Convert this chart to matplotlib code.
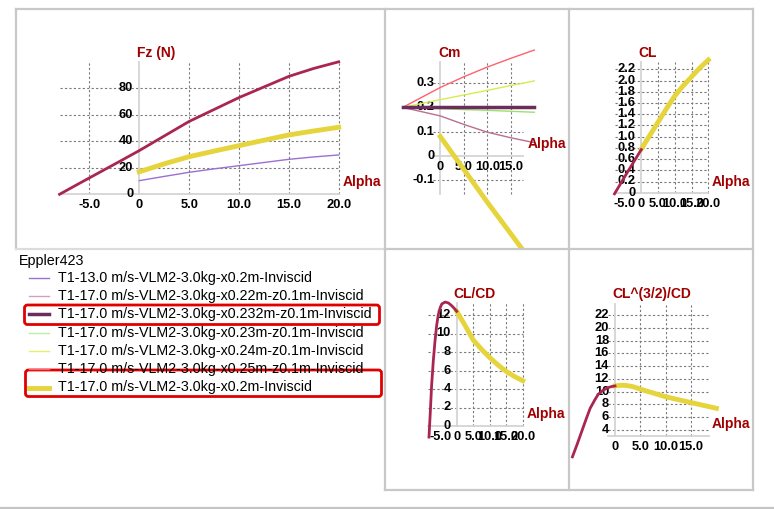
import matplotlib
matplotlib.use("Agg")
import matplotlib.pyplot as plt
from matplotlib.patches import FancyBboxPatch

W, H = 774, 509
plt.rcParams['font.family'] = ['Liberation Sans', 'DejaVu Sans']

# ---- data ----
# Fz (N)
fz_alpha_mix = [-8, -6, -4, -2, 0, 2.5, 5, 7.5, 10, 12.5, 15, 17.5, 20]
fz_mix = [0, 8.3, 16.5, 24.7, 33, 44, 55, 64, 73, 81, 89, 95, 100]
fz_alpha_17 = [0, 2.5, 5, 7.5, 10, 12.5, 15, 17.5, 20]
fz_17 = [17, 23, 28.4, 32.6, 36.7, 40.8, 44.8, 47.8, 50.6]
fz_alpha_13 = [0, 2.5, 5, 7.5, 10, 12.5, 15, 17.5, 20]
fz_13 = [10.3, 13.5, 16.6, 19.2, 21.6, 24, 26.4, 28.2, 29.7]

# Cm
cm_alpha = [-8, 0, 5, 10, 15, 20]
cm_x025 = [0.2, 0.282, 0.326, 0.366, 0.402, 0.436]
cm_x024 = [0.2, 0.232, 0.251, 0.27, 0.29, 0.309]
cm_x0232 = [0.2, 0.2, 0.2, 0.2, 0.2, 0.2]
cm_x023 = [0.2, 0.195, 0.191, 0.188, 0.184, 0.18]
cm_x022 = [0.2, 0.165, 0.13, 0.098, 0.075, 0.055]
cm_alpha_17 = [0, 5, 10, 15, 20]
cm_17 = [0.08, -0.055, -0.19, -0.32, -0.45]

# CL
cl_alpha_mix = [-8, -4, 0]
cl_mix = [-0.02, 0.38, 0.77]
cl_alpha_17 = [0, 2.5, 5, 7.5, 10, 12.5, 15, 17.5, 20]
cl_17 = [0.78, 1.02, 1.26, 1.5, 1.73, 1.91, 2.07, 2.23, 2.37]

# CL/CD
clcd_alpha_mix = [-8.4, -8, -7.6, -7.1, -6.6, -6.1, -5.6, -5, -4.5, -3.5, -2.5, -1.5, -0.7, 0]
clcd_mix = [-1.2, 1.5, 4.4, 7.0, 9.1, 10.8, 12.0, 12.8, 13.2, 13.4, 13.3, 13.0, 12.7, 12.4]
clcd_alpha_17 = [0, 1, 2.5, 5, 7.5, 10, 12.5, 15, 17.5, 20]
clcd_17 = [12.4, 11.8, 10.9, 9.3, 8.3, 7.4, 6.6, 5.9, 5.35, 4.9]

# CL^(3/2)/CD
p_alpha_mix = [-8.4, -7.5, -6.6, -5.7, -4.9, -4, -3.3, -2.4, -1.5, -0.7, 0]
p_mix = [-0.2, 1.7, 3.7, 5.7, 7.4, 8.7, 9.6, 10.2, 10.6, 10.8, 10.9]
p_alpha_17 = [0, 1, 2, 3.5, 5, 7.5, 10, 12.5, 15, 17.5, 20]
p_17 = [10.9, 11.0, 11.0, 10.8, 10.4, 9.8, 9.2, 8.75, 8.3, 7.85, 7.4]

legend_labels = [
    "T1-13.0 m/s-VLM2-3.0kg-x0.2m-Inviscid",
    "T1-17.0 m/s-VLM2-3.0kg-x0.22m-z0.1m-Inviscid",
    "T1-17.0 m/s-VLM2-3.0kg-x0.232m-z0.1m-Inviscid",
    "T1-17.0 m/s-VLM2-3.0kg-x0.23m-z0.1m-Inviscid",
    "T1-17.0 m/s-VLM2-3.0kg-x0.24m-z0.1m-Inviscid",
    "T1-17.0 m/s-VLM2-3.0kg-x0.25m-z0.1m-Inviscid",
    "T1-17.0 m/s-VLM2-3.0kg-x0.2m-Inviscid",
]
legend_colors = ['#9a70d0', '#d8a0b8', '#6b2d5c', '#b8f0a0', '#e6f070', '#ff6070', '#e6d43c']
legend_widths = [1, 1, 2.5, 1, 1, 1, 3.5]

C_MIX = '#a8264f'
C_YEL = '#e6d43c'
C_TITLE = '#a00000'
GRID = '#7a7a7a'
AXIS = '#d4d4d4'

fig = plt.figure(figsize=(W / 100, H / 100), dpi=100)


def panel(rect, origin, scale):
    x0, y0, x1, y1 = rect
    ox, oy = origin
    sx, sy = scale
    ax = fig.add_axes([x0 / W, 1 - y1 / H, (x1 - x0) / W, (y1 - y0) / H])
    ax.set_xlim((x0 - ox) / sx, (x1 - ox) / sx)
    ax.set_ylim((oy - y1) / sy, (oy - y0) / sy)
    ax.axis('off')
    return ax


def grid(ax, xg, yg, xspan, yspan, x_axis_at=0):
    for g in xg:
        ax.plot([g, g], yspan, color=GRID, lw=0.8, ls=(0, (2, 2)), zorder=1)
    for g in yg:
        ax.plot(xspan, [g, g], color=GRID, lw=0.8, ls=(0, (2, 2)), zorder=1)
    ax.plot(xspan, [x_axis_at, x_axis_at], color=AXIS, lw=1.3, zorder=1)
    ax.plot([0, 0], yspan, color=AXIS, lw=1.3, zorder=1)


def ticks(ax, xt, xl, yt, yl, x_axis_at=0):
    for v, s in zip(xt, xl):
        ax.annotate(s, (v, x_axis_at), xytext=(0, -5), textcoords='offset pixels',
                    ha='center', va='top', fontsize=9.3, fontweight='bold',
                    annotation_clip=False)
    for v, s in zip(yt, yl):
        ax.annotate(s, (0, v), xytext=(-6, 0), textcoords='offset pixels',
                    ha='right', va='center', fontsize=9.3, fontweight='bold',
                    annotation_clip=False)


def label(x, y, s):
    fig.text(x / W, 1 - y / H, s, color=C_TITLE, fontsize=10, fontweight='bold',
             ha='left', va='center')


# ---- Fz ----
ax = panel((17, 10, 384, 248), (139.3, 194.3), (9.97, 1.325))
grid(ax, [-5, 5, 10, 15, 20], [20, 40, 60, 80], [-8, 20], [0, 100])
ticks(ax, [-5, 0, 5, 10, 15, 20], ['-5.0', '0', '5.0', '10.0', '15.0', '20.0'],
      [0, 20, 40, 60, 80], ['0', '20', '40', '60', '80'])
ax.plot(fz_alpha_13, fz_13, color=legend_colors[0], lw=1, zorder=3)
ax.plot(fz_alpha_17, fz_17, color=C_YEL, lw=3.5, zorder=3)
ax.plot(fz_alpha_mix, fz_mix, color=C_MIX, lw=2, zorder=4)
label(137, 53, 'Fz (N)')
label(343, 182, 'Alpha')

# ---- Cm ----
ax = panel((386, 10, 568, 248), (440.3, 156), (4.7, 243))
grid(ax, [5, 10, 15], [0.3, 0.2, 0.1, -0.1], [-1.6, 17.6], [-0.158, 0.388])
ticks(ax, [0, 5, 10, 15], ['0', '5.0', '10.0', '15.0'],
      [0.3, 0.2, 0.1, 0, -0.1], ['0.3', '0.2', '0.1', '0', '-0.1'])
ax.plot(cm_alpha, cm_x025, color=legend_colors[5], lw=1, zorder=3)
ax.plot(cm_alpha, cm_x024, color='#d4ee50', lw=1, zorder=3)
ax.plot(cm_alpha, cm_x023, color='#9ee070', lw=1, zorder=3)
ax.plot(cm_alpha, cm_x022, color='#b87090', lw=1, zorder=3)
ax.plot(cm_alpha, cm_x0232, color=legend_colors[2], lw=2.5, zorder=4)
ax.plot(cm_alpha_17, cm_17, color=C_YEL, lw=3.5, zorder=4)
label(438, 53, 'Cm')
label(528, 144, 'Alpha')

# ---- CL ----
ax = panel((570, 10, 752, 248), (641.3, 192.7), (3.35, 56))
grid(ax, [5, 10, 15, 20], [0.2 * i for i in range(1, 12)], [-8, 20], [0, 2.34])
cl_ticks = [0.2 * i for i in range(12)]
ticks(ax, [-5, 0, 5, 10, 15, 20], ['-5.0', '0', '5.0', '10.0', '15.0', '20.0'],
      cl_ticks, ['0'] + ['%.1f' % v for v in cl_ticks[1:]])
ax.plot(cl_alpha_17, cl_17, color=C_YEL, lw=3.5, zorder=3)
ax.plot(cl_alpha_mix, cl_mix, color=C_MIX, lw=2, zorder=4)
label(638, 53, 'CL')
label(712, 182, 'Alpha')

# ---- CL/CD ----
ax = panel((386, 250, 568, 490), (456.7, 426), (3.3, 9.25))
grid(ax, [5, 10, 15, 20], [2, 4, 6, 8, 10, 12], [-8.7, 20], [0, 13.3])
ticks(ax, [-5, 0, 5, 10, 15, 20], ['-5.0', '0', '5.0', '10.0', '15.0', '20.0'],
      [0, 2, 4, 6, 8, 10, 12], ['0', '2', '4', '6', '8', '10', '12'])
ax.plot(clcd_alpha_17, clcd_17, color=C_YEL, lw=3.5, zorder=3)
ax.plot(clcd_alpha_mix, clcd_mix, color=C_MIX, lw=2, zorder=4)
label(453, 294, 'CL/CD')
label(527, 414, 'Alpha')

# ---- CL^(3/2)/CD ----
ax = panel((570, 250, 752, 490), (615, 455.6), (5.07, 6.39))
grid(ax, [5, 10, 15], list(range(4, 23, 2)), [-1.4, 18.6], [3, 23.8], x_axis_at=3)
ticks(ax, [0, 5, 10, 15], ['0', '5.0', '10.0', '15.0'],
      list(range(4, 23, 2)), [str(v) for v in range(4, 23, 2)], x_axis_at=3)
ax.plot(p_alpha_17, p_17, color=C_YEL, lw=3.5, zorder=3)
ax.plot(p_alpha_mix, p_mix, color=C_MIX, lw=2, zorder=4)
label(612, 294, 'CL^(3/2)/CD')
label(712, 424, 'Alpha')

# ---- frame, borders and legend (pixel coordinates) ----
ov = fig.add_axes([0, 0, 1, 1])
ov.set_xlim(0, W)
ov.set_ylim(H, 0)
ov.axis('off')
bc = '#c8c8c8'
ov.plot([16, 753], [9, 9], color=bc, lw=1.6)
ov.plot([16, 16], [9, 249], color=bc, lw=1.6)
ov.plot([16, 385], [249, 249], color='#dcdcdc', lw=1.6)
ov.plot([385, 753], [249, 249], color=bc, lw=1.6)
ov.plot([385, 385], [9, 490], color=bc, lw=1.6)
ov.plot([569, 569], [9, 490], color=bc, lw=1.6)
ov.plot([753, 753], [9, 490], color=bc, lw=1.6)
ov.plot([385, 753], [490, 490], color=bc, lw=1.6)
ov.plot([0, W], [508, 508], color='#c4c4c4', lw=1.6)

ov.text(19, 261, 'Eppler423', fontsize=10.3, ha='left', va='center')
for i, (lab, col, lw) in enumerate(zip(legend_labels, legend_colors, legend_widths)):
    yy = 277.7 + i * 18.3
    ov.plot([28.7, 48.7], [yy, yy], color=col, lw=lw)
    ov.text(58.3, yy, lab, fontsize=10.3, ha='left', va='center')

for (bx, by, bw, bh) in [(24.5, 305, 355, 19.5), (25.5, 370, 356, 26.5)]:
    ov.add_patch(FancyBboxPatch((bx, by), bw, bh, boxstyle='round,pad=0,rounding_size=3',
                                fc='none', ec='#e00000', lw=2))

fig.savefig('out.png', dpi=100)
